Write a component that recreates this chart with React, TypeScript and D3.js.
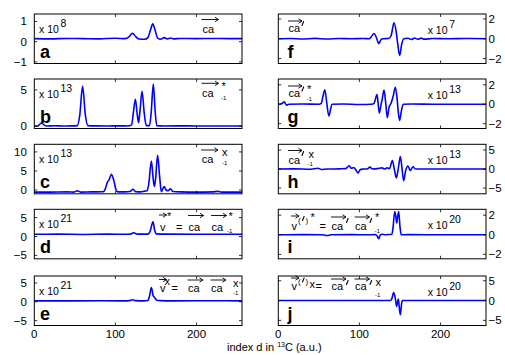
import React from 'react'
import * as d3 from 'd3'

const FONT = 'Liberation Sans, Arial, sans-serif'
const BLUE = '#0000ff'

// x axis: carbon index d
const xDomain = [0, 256]
const xTicks = [0, 100, 200]

// each series is [index, value]
const seriesA = [[0,0.15],[20,0.14],[40,0.16],[60,0.15],[80,0.14],[100,0.17],[112,0.15],[117,0.25],[121,0.42],[125,0.25],[129,0.13],[136,0.12],[140,0.2],[143,0.55],[146,0.88],[149,0.55],[152,0.18],[156,0.12],[160,0.2],[164,0.14],[168,0.18],[172,0.14],[180,0.16],[200,0.15],[220,0.16],[240,0.15],[256,0.15]]
const seriesB = [[0,0.05],[4,0.05],[6,0.2],[9,0.46],[12,0.2],[15,0.05],[25,0.08],[35,0.05],[45,0.06],[53,0.1],[56,1.5],[59.5,5.5],[63,1.5],[66,0.1],[75,0.06],[90,0.05],[105,0.06],[115,0.05],[120,0.2],[122,1.8],[124.6,3.7],[127,1.5],[128.5,0.5],[130,1.8],[132.8,4.8],[135.5,1.8],[138,0.1],[142,0.1],[144,1.8],[146.7,5.8],[149,2.0],[151,0.1],[160,0.05],[180,0.06],[200,0.05],[220,0.05],[256,0.05]]
const seriesC = [[0,-0.55],[20,-0.55],[40,-0.5],[49,-0.55],[53,-0.2],[57,-0.55],[70,-0.5],[85,-0.45],[87.5,0.3],[90,2.0],[92,2.6],[95,4.1],[98,2.5],[100.5,0.2],[103,-0.5],[112,-0.5],[118,-0.4],[121.7,0.2],[125,-0.45],[131,-0.5],[136,-0.3],[139,-0.2],[141,1.5],[144.3,7.6],[146.5,3.0],[148,0.9],[149.5,3.0],[152,9.1],[154.5,3.5],[156.6,-0.45],[158.5,0.4],[160,0.9],[162.5,0.0],[165,-0.2],[167.7,0.3],[170.5,-0.4],[180,-0.5],[200,-0.55],[220,-0.5],[226,-0.35],[231,-0.55],[256,-0.55]]
const seriesD = [[0,0.6],[30,0.62],[60,0.55],[90,0.62],[115,0.6],[118,0.62],[122.5,1.0],[127,0.62],[140,0.62],[142.5,1.2],[146.3,3.9],[148.5,1.5],[150.5,0.7],[160,0.62],[200,0.6],[256,0.6]]
const seriesE = [[0,0.25],[40,0.25],[80,0.28],[110,0.25],[117,0.3],[121,0.55],[125,0.3],[135,0.25],[140,0.35],[142,1.5],[144.3,3.8],[146.5,1.6],[148.5,1.1],[151,0.4],[155,0.3],[170,0.25],[210,0.28],[256,0.25]]
const seriesF = [[0,0],[15,0.03],[30,-0.03],[45,0.04],[60,-0.03],[75,0.03],[90,0],[105,0.03],[112,0],[115,0.25],[118,0.53],[121,0.1],[123.8,-0.49],[126.5,-0.1],[129,0],[136,0.02],[139,0.3],[142.6,1.6],[145.5,0.6],[147,-0.4],[149.6,-1.68],[152,-0.6],[154.5,0],[160,0.05],[164,-0.08],[168,0.08],[172,-0.05],[176,0.06],[180,-0.04],[190,0.02],[210,0],[230,0.02],[256,0]]
const seriesG = [[0,0],[4,0.05],[7.4,0.24],[10,-0.1],[13,0],[30,0.02],[50,0],[53,0.1],[55,0.8],[57.4,1.5],[59.5,0.3],[62.3,-1.2],[64.5,-0.5],[66,0],[80,0.02],[100,-0.02],[115,0],[118,0.1],[121.7,1.0],[123,0.1],[124.5,-0.9],[126.5,-0.1],[128,0.5],[130.3,1.46],[132.3,0.2],[134.4,-1.39],[136.5,-0.3],[139,0.1],[141.5,0.8],[144.3,1.74],[146.5,0.5],[148,-0.9],[149.6,-1.67],[151.5,-0.8],[154,0],[165,0.02],[190,0],[256,0]]
const seriesH = [[0,0],[20,0.05],[40,-0.05],[49,0.2],[53,-0.1],[60,0],[75,0.05],[83,0.1],[87.3,0.87],[90,0.2],[93,0.4],[95.5,-0.2],[98.3,-1.04],[101,-0.1],[105,0],[110,0.1],[113,0.5],[116,0],[122,0.1],[128,0.3],[131,0],[134,0.3],[137,0.1],[140.6,2.26],[143,0],[145.5,-2.35],[148,0.3],[150.4,3.3],[152.5,0.2],[154.5,-3.05],[157,-0.4],[159.8,0.8],[162.6,-0.4],[166,0.6],[169,0],[180,0.02],[200,0],[230,0.03],[256,0]]
const seriesI = [[0,0],[30,0.02],[55,0],[60,-0.08],[65,0],[90,0.02],[110,0],[120,0.02],[122,-0.15],[123.8,-0.4],[125.5,-0.05],[128,0.05],[132,0],[140,0.05],[141.5,0.8],[143.5,2.36],[145,1.8],[146,1.2],[147,1.8],[148.4,2.36],[150,0.8],[151.6,0],[160,0.02],[200,0],[256,0]]
const seriesJ = [[0,0],[40,0.03],[80,0],[120,0.03],[138,0],[140,0.5],[142.2,2.0],[144,0.8],[146,-1.5],[147,-0.3],[148,0.4],[149,-1.5],[150.4,-3.6],[151.8,-1.0],[153,0],[165,0.03],[200,0],[256,0]]

// y ranges and tick labels
const yDomains = [[-1.08, 1.37], [-0.3, 6.5], [-1, 12], [-5.9, 7.2], [-6.3, 6.85],
  [-2.5, 2.5], [-2.5, 2.6], [-6.5, 6.5], [-2.45, 2.6], [-6.3, 6.2]]
const yTicksList = [[-1, 0, 1], [0, 5], [0, 5, 10], [-5, 0, 5], [-5, 0, 5],
  [-2, 0, 2], [-2, 0, 2], [-5, 0, 5], [-2, 0, 2], [-5, 0, 5]]
const letters = ['a', 'b', 'c', 'd', 'e', 'f', 'g', 'h', 'i', 'j']
const exponents = ['8', '13', '13', '21', '21', '7', '13', '13', '20', '20']
const allSeries = [seriesA, seriesB, seriesC, seriesD, seriesE, seriesF, seriesG, seriesH, seriesI, seriesJ]

const PW = 207.7
const PH = 49.5
const colX = [34.3, 278.3]
const rowTop = [14, 79, 144.3, 209.3, 276]

const fmt = (t: number) => (t < 0 ? '\u2212' + Math.abs(t) : String(t))

const Arrow = ({x1, x2, y}: {x1: number, x2: number, y: number}) => (
  <path d={`M${x1},${y}H${x2}M${x2 - 3.5},${y - 2.2}L${x2},${y}L${x2 - 3.5},${y + 2.2}`}
    stroke="#000" strokeWidth={0.9} fill="none" />
)

// prime mark drawn as a short slanted stroke (top at y)
const Prime = ({x, y}: {x: number, y: number}) => (
  <path d={`M${x},${y + 4}L${x + 1.6},${y}`} stroke="#000" strokeWidth={1.1} strokeLinecap="round" fill="none" />
)

const T = ({x, y, s = 11, children}: any) => (
  <text x={x} y={y} fontSize={s} fontFamily={FONT} fill="#000">{children}</text>
)

// formula labels for each panel (text + vector arrows)
const formulas: any[] = [
  <g key="a"><T x={202.5} y={32.5}>ca</T><Arrow x1={201.5} x2={218.5} y={19.5} /></g>,
  <g key="b"><T x={202} y={96.5}>ca</T><Arrow x1={201.5} x2={218.5} y={83.3} /><T x={221.5} y={90}>*</T><T x={221} y={100} s={6}>-1</T></g>,
  <g key="c"><T x={201.7} y={163.3}>ca</T><Arrow x1={201} x2={218} y={150} /><T x={222} y={155.5}>x</T><T x={222} y={165} s={6}>-1</T></g>,
  <g key="d"><T x={160} y={230.5}>v</T><Arrow x1={159} x2={166.5} y={215} /><T x={167} y={220}>*</T>
    <T x={176} y={230.5}>=</T><T x={188.5} y={230.5}>ca</T><Arrow x1={188} x2={203.5} y={215.5} />
    <T x={211.5} y={230.5}>ca</T><Arrow x1={211} x2={226.5} y={215.5} /><T x={228.5} y={220}>*</T><T x={227} y={232.5} s={6}>-1</T></g>,
  <g key="e"><T x={160} y={292.3}>v</T><Arrow x1={159} x2={166.5} y={279.5} /><T x={164.5} y={285}>x</T>
    <T x={171.5} y={292.3}>=</T><T x={188} y={292.3}>ca</T><Arrow x1={187.5} x2={203} y={280} />
    <T x={211} y={292.3}>ca</T><Arrow x1={210.5} x2={226} y={280} /><T x={233} y={286.7}>x</T><T x={233} y={295} s={6}>-1</T></g>,
  <g key="f"><T x={288.5} y={32.3}>ca</T><Arrow x1={288} x2={302} y={21} /><Prime x={302} y={21.5} /></g>,
  <g key="g"><T x={288.5} y={97.3}>ca</T><Arrow x1={288} x2={302} y={86} /><Prime x={302} y={87} /><T x={307} y={93}>*</T><T x={306.5} y={100.5} s={6}>-1</T></g>,
  <g key="h"><T x={288.5} y={164.3}>ca</T><Arrow x1={288} x2={302} y={150.5} /><Prime x={302} y={151.5} /><T x={308.5} y={157.5}>x</T><T x={307.5} y={165.5} s={6}>-1</T></g>,
  <g key="i"><T x={291.5} y={230}>v</T><Arrow x1={291} x2={299} y={216} />
    <T x={298} y={222.5} s={8}>(</T><Prime x={302.5} y={216.5} /><T x={305.5} y={222.5} s={8}>)</T><T x={310.5} y={221}>*</T>
    <T x={319.5} y={230}>=</T><T x={331.5} y={230}>ca</T><Arrow x1={331} x2={346} y={217} /><Prime x={346.5} y={218.5} />
    <T x={355} y={230}>ca</T><Arrow x1={354.5} x2={369.5} y={217} /><Prime x={370} y={218.5} /><T x={375} y={221}>*</T><T x={374.5} y={233} s={6}>-1</T></g>,
  <g key="j"><T x={291.5} y={290}>v</T><Arrow x1={291} x2={299} y={278} />
    <T x={298} y={284} s={8}>(</T><Prime x={302.5} y={278} /><T x={305.5} y={284} s={8}>)</T><T x={309.5} y={288.3}>x</T>
    <T x={315.5} y={290}>=</T><T x={331.5} y={290}>ca</T><Arrow x1={331} x2={346} y={279} /><Prime x={346.5} y={280.5} />
    <T x={355} y={290}>ca</T><Arrow x1={354.5} x2={369.5} y={279} /><Prime x={370} y={280.5} /><T x={375.5} y={285.5}>x</T><T x={375} y={296.7} s={6}>-1</T></g>,
]

function Panel({i}: {i: number}) {
  const col = i < 5 ? 0 : 1
  const row = i % 5
  const x0 = colX[col]
  const top = rowTop[row]
  const x = d3.scaleLinear().domain(xDomain).range([x0, x0 + PW])
  const y = d3.scaleLinear().domain(yDomains[i]).range([top + PH, top])
  const line = d3.line<number[]>().x(d => x(d[0])).y(d => y(d[1])).curve(d3.curveMonotoneX)
  const clipId = 'clip' + i
  const tk = 3
  // exponent label position
  const expX = col === 0 ? 39 : 427.7
  const expY = col === 0 ? top + 19 : top + 20
  return (
    <g>
      <defs>
        <clipPath id={clipId}><rect x={x0} y={top} width={PW} height={PH} /></clipPath>
      </defs>
      <rect x={x0} y={top} width={PW} height={PH} fill="#fff" />
      <path d={line(allSeries[i] as any) || ''} fill="none" stroke={BLUE} strokeWidth={1.6} clipPath={`url(#${clipId})`} />
      {xTicks.filter(t => t > 0).map(t => (
        <g key={'xt' + t}>
          <line x1={x(t)} x2={x(t)} y1={top} y2={top + tk} stroke="#000" strokeWidth={0.8} />
          <line x1={x(t)} x2={x(t)} y1={top + PH} y2={top + PH - tk} stroke="#000" strokeWidth={0.8} />
        </g>
      ))}
      {yTicksList[i].map(t => (
        <g key={'yt' + t}>
          <line x1={x0} x2={x0 + tk} y1={y(t)} y2={y(t)} stroke="#000" strokeWidth={0.8} />
          <line x1={x0 + PW} x2={x0 + PW - tk} y1={y(t)} y2={y(t)} stroke="#000" strokeWidth={0.8} />
          <text x={col === 0 ? x0 - 7.5 : x0 + PW + 2.5} y={y(t) + 4} textAnchor={col === 0 ? 'end' : 'start'}
            fontSize={11.5} fontFamily={FONT} fill="#000">{fmt(t)}</text>
        </g>
      ))}
      <rect x={x0} y={top} width={PW} height={PH} fill="none" stroke="#000" strokeWidth={1} />
      {row === 4 && xTicks.map(t => (
        <text key={'xl' + t} x={x(t)} y={337.5} textAnchor="middle" fontSize={11.5} fontFamily={FONT} fill="#000">{t}</text>
      ))}
      <text x={expX} y={expY} fontSize={10.5} fontFamily={FONT} fill="#000">x 10</text>
      <text x={expX + 21.5} y={expY - 6} fontSize={10.5} fontFamily={FONT} fill="#000">{exponents[i]}</text>
      <text x={col === 0 ? 40 : 287.5} y={top + PH - 5.5} fontSize={18} fontWeight="bold" fontFamily={FONT} fill="#000">{letters[i]}</text>
      {formulas[i]}
    </g>
  )
}

export default function App() {
  return (
    <svg width={505} height={355} style={{position: 'absolute', left: 0, top: 0, background: '#fff'}}>
      <rect width={505} height={355} fill="#fff" />
      {allSeries.map((_, i) => <Panel key={i} i={i} />)}
      <text x={227} y={351} fontSize={11} fontFamily={FONT} fill="#000">
        index d in <tspan fontSize={7} dy={-4}>13</tspan><tspan dy={4}>C (a.u.)</tspan>
      </text>
    </svg>
  )
}
